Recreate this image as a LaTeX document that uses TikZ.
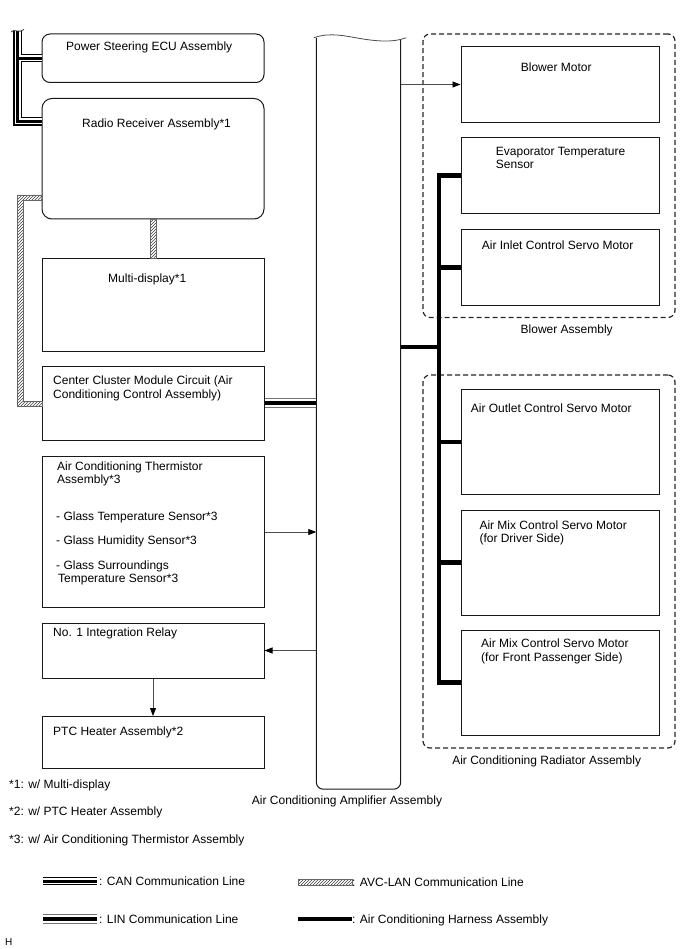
\documentclass[tikz,border=0pt]{standalone}
\usepackage{fontspec}
\setmainfont{Liberation Sans}
\usetikzlibrary{arrows.meta,patterns}
\newcommand\myCANline[1]{%
  \draw[line width=8.5pt, black] #1;
  \draw[line width=6pt, white] #1;
  \draw[line width=3pt, black] #1;}
\newcommand\myLINline[1]{%
  \draw[line width=10pt, black!55] #1;
  \draw[line width=8pt, white] #1;
  \draw[line width=4.2pt, black] #1;}
\begin{document}
\begin{tikzpicture}[x=1pt,y=-1pt,
  box/.style={draw=black!90, line width=1pt, inner sep=0pt},
  grp/.style={draw=black!85, line width=1.2pt, dash pattern=on 5pt off 3pt, rounded corners=7pt, inner sep=0pt},
  txt/.style={anchor=base west, inner sep=0pt, font=\fontsize{12}{14}\selectfont},
  ctxt/.style={anchor=base, inner sep=0pt, font=\fontsize{12}{14}\selectfont},
  arr/.style={draw=black!70, line width=0.8pt, -{Triangle[length=8pt,width=6pt,black]}},
  harness/.style={draw=black, line width=4.2pt, line join=miter},
  avc/.style={pattern=north east lines, pattern color=black!75, draw=black!60, line width=0.6pt}]
\useasboundingbox (0,0) rectangle (688,949);

% left column
\node[box, rounded corners=8pt, minimum width=222, minimum height=48.5] (ps) at (153,58.25) {};
\node[box, rounded corners=10pt, minimum width=222, minimum height=120.5] (radio) at (153,158.75) {};
\node[box, minimum width=222, minimum height=92.5] (multi) at (153,304.75) {};
\node[box, minimum width=222, minimum height=73.5] (center) at (153,403.25) {};
\node[box, minimum width=222, minimum height=151] (therm) at (153,532) {};
\node[box, minimum width=222, minimum height=55] (relay) at (153,650.5) {};
\node[box, minimum width=222, minimum height=51.5] (ptc) at (153,742.25) {};

% right column
\node[grp, minimum width=252, minimum height=283.5] (blowgrp) at (549,175.75) {};
\node[grp, minimum width=252, minimum height=373] (radgrp) at (549,561.5) {};
\node[box, minimum width=198.5, minimum height=76] (bm) at (560.25,84.5) {};
\node[box, minimum width=198.5, minimum height=76] (evap) at (560.25,175.5) {};
\node[box, minimum width=198.5, minimum height=76] (inlet) at (560.25,267.5) {};
\node[box, minimum width=198.5, minimum height=105] (outlet) at (560.25,442) {};
\node[box, minimum width=198.5, minimum height=105] (mixd) at (560.25,562.5) {};
\node[box, minimum width=198.5, minimum height=105] (mixf) at (560.25,682.5) {};

% amplifier
\node[inner sep=0pt, minimum width=84, minimum height=751] (amp) at (358.5,413.5) {};
\draw[black!90, line width=1pt, rounded corners=7pt] (amp.north west) -- (amp.south west) -- (amp.south east) -- ([yshift=-2pt]amp.north east);
\draw[black!70, line width=0.8pt] ([xshift=-2.5pt]amp.north west) .. controls (330,32) and (345,36) .. (360,38.5) .. controls (375,41) and (392,43) .. ([xshift=5.5pt]amp.north east);

% texts
\node[txt] at (66,50.5) {Power Steering ECU Assembly};
\node[txt] at (82,127.5) {Radio Receiver Assembly*1};
\node[txt] at (108,282.5) {Multi-display*1};
\node[txt] at (53,384) {Center Cluster Module Circuit (Air};
\node[txt] at (53,398) {Conditioning Control Assembly)};
\node[txt] at (57,470) {Air Conditioning Thermistor};
\node[txt] at (57,483.5) {Assembly*3};
\node[txt] at (56,520) {- Glass Temperature Sensor*3};
\node[txt] at (56,544) {- Glass Humidity Sensor*3};
\node[txt] at (56,569) {- Glass Surroundings};
\node[txt] at (58,582.7) {Temperature Sensor*3};
\node[txt] at (53,636) {No. 1 Integration Relay};
\node[txt] at (53,735) {PTC Heater Assembly*2};

\node[txt] at (520.7,71.7) {Blower Motor};
\node[txt] at (495.7,155.7) {Evaporator Temperature};
\node[txt] at (495.7,168.5) {Sensor};
\node[txt] at (481.7,250) {Air Inlet Control Servo Motor};
\node[ctxt] at (566.7,333.5) {Blower Assembly};
\node[txt] at (470.7,412.3) {Air Outlet Control Servo Motor};
\node[txt] at (479.3,529) {Air Mix Control Servo Motor};
\node[txt] at (479.3,542.5) {(for Driver Side)};
\node[txt] at (481,647.7) {Air Mix Control Servo Motor};
\node[txt] at (481,661) {(for Front Passenger Side)};
\node[ctxt] at (546.7,764.5) {Air Conditioning Radiator Assembly};
\node[ctxt] at (347,804) {Air Conditioning Amplifier Assembly};

\node[txt] at (9,788) {*1: w/ Multi-display};
\node[txt] at (9,815) {*2: w/ PTC Heater Assembly};
\node[txt] at (9,843) {*3: w/ Air Conditioning Thermistor Assembly};

% CAN bus
\coordinate (cantop) at (17.5,31);
\coordinate (canr) at (0,121.5);
\myCANline{(cantop) -- (cantop |- canr) -- (radio.west |- canr) (cantop |- ps.west) -- (ps.west)}
\draw[black!80, line width=0.8pt] (11,32) .. controls (14,28) and (19,34) .. (24,29.5);

% AVC-LAN
\path[avc] (42,195) -- (17,195) -- (17,406.5) -- (42,406.5) -- (42,401) -- (23,401) -- (23,200.5) -- (42,200.5) -- cycle;
\path[avc] ([xshift=-3pt]radio.south) rectangle ([xshift=3pt]multi.north);

% LIN
\myLINline{(center.east) -- (amp.west |- center.east)}

% harness
\coordinate (bus) at (439,0);
\coordinate (hb) at (0,347);
\draw[harness] (evap.west) -- (bus |- evap.west) -- (bus |- mixf.west) -- (mixf.west);
\draw[harness] (bus |- inlet.west) -- (inlet.west);
\draw[harness] (bus |- outlet.west) -- (outlet.west);
\draw[harness] (bus |- mixd.west) -- (mixd.west);
\draw[harness] (amp.east |- hb) -- (bus |- hb);

% arrows
\draw[arr] (amp.east |- bm.west) -- (bm.west);
\draw[arr] (therm.east) -- (amp.west |- therm.east);
\draw[arr] (amp.west |- relay.east) -- (relay.east);
\draw[arr] (relay.south) -- (ptc.north);

% legend
\coordinate (canA) at (43,881); \coordinate (canB) at (97,881);
\myCANline{(canA) -- (canB)}
\node[txt] at (99,885) {: CAN Communication Line};
\coordinate (linA) at (43,919); \coordinate (linB) at (97,919);
\myLINline{(linA) -- (linB)}
\node[txt] at (99,923) {: LIN Communication Line};
\coordinate (avcA) at (298,879); \coordinate (avcB) at (352,885);
\path[avc] (avcA) rectangle (avcB);
\node[txt] at (352,886) {: AVC-LAN Communication Line};
\coordinate (hA) at (298,919); \coordinate (hB) at (352,919);
\draw[harness] (hA) -- (hB);
\node[txt] at (352,923) {: Air Conditioning Harness Assembly};
\node[txt, font=\fontsize{10}{12}\selectfont] at (5,945) {H};
\end{tikzpicture}
\end{document}
